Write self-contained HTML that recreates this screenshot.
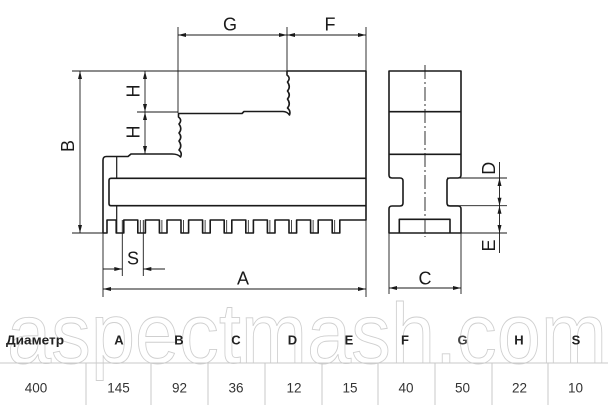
<!DOCTYPE html>
<html><head><meta charset="utf-8"><style>
html,body{margin:0;padding:0;background:#fff;}
svg{display:block;}
</style></head><body>
<svg width="611" height="410" viewBox="0 0 611 410" xmlns="http://www.w3.org/2000/svg">
<rect width="611" height="410" fill="#fff"/>

<!-- watermark -->
<text x="7" y="363" font-family="Liberation Sans, sans-serif" font-size="85" textLength="600" lengthAdjust="spacingAndGlyphs" fill="none" stroke="#cfcfcf" stroke-width="0.9">aspectmash.com</text>

<!-- table -->
<line x1="0" y1="363" x2="608" y2="363" stroke="#c9c9c9" stroke-width="1"/>
<g stroke="#c9c9c9" stroke-width="1">
<line x1="86" y1="363" x2="86" y2="405"/>
<line x1="151" y1="363" x2="151" y2="405"/>
<line x1="208" y1="363" x2="208" y2="405"/>
<line x1="265" y1="363" x2="265" y2="405"/>
<line x1="322" y1="363" x2="322" y2="405"/>
<line x1="378" y1="363" x2="378" y2="405"/>
<line x1="435" y1="363" x2="435" y2="405"/>
<line x1="492" y1="363" x2="492" y2="405"/>
<line x1="548" y1="363" x2="548" y2="405"/>
</g>
<g font-family="Liberation Sans, sans-serif" font-size="13" font-weight="bold" fill="#222" text-anchor="middle">
<text x="6" y="344.5" text-anchor="start" textLength="58" lengthAdjust="spacingAndGlyphs">Диаметр</text>
<text x="119" y="344.5">A</text>
<text x="179" y="344.5">B</text>
<text x="236" y="344.5">C</text>
<text x="292.5" y="344.5">D</text>
<text x="349" y="344.5">E</text>
<text x="405" y="344.5">F</text>
<text x="462.5" y="344.5" fill="#444">G</text>
<text x="519" y="344.5">H</text>
<text x="576" y="344.5">S</text>
</g>
<g font-family="Liberation Sans, sans-serif" font-size="13.5" fill="#333" text-anchor="middle">
<text x="36" y="392.5">400</text>
<text x="118.5" y="392.5">145</text>
<text x="179.5" y="392.5">92</text>
<text x="236" y="392.5">36</text>
<text x="294" y="392.5">12</text>
<text x="350" y="392.5">15</text>
<text x="406" y="392.5">40</text>
<text x="462.5" y="392.5">50</text>
<text x="519.5" y="392.5">22</text>
<text x="575.5" y="392.5">10</text>
</g>

<!-- thin dimension / extension lines -->
<g stroke="#1a1a1a" stroke-width="0.9" fill="none">
<line x1="72" y1="71" x2="287" y2="71"/>
<line x1="72" y1="233" x2="103" y2="233"/>
<line x1="80" y1="71" x2="80" y2="233"/>
<line x1="137" y1="112" x2="178" y2="112"/>
<line x1="145" y1="71" x2="145" y2="154"/>
<line x1="178" y1="27" x2="178" y2="113"/>
<line x1="287" y1="27" x2="287" y2="71"/>
<line x1="366" y1="27" x2="366" y2="71"/>
<line x1="178" y1="35" x2="366" y2="35"/>
<line x1="122.3" y1="220" x2="122.3" y2="276"/>
<line x1="143.3" y1="220" x2="143.3" y2="276"/>
<line x1="103" y1="269" x2="122.3" y2="269"/>
<line x1="143.3" y1="269" x2="165" y2="269"/>
<line x1="103" y1="233" x2="103" y2="297"/>
<line x1="366" y1="220" x2="366" y2="297"/>
<line x1="103" y1="289" x2="366" y2="289"/>
<line x1="389" y1="233" x2="389" y2="294"/>
<line x1="461" y1="233" x2="461" y2="294"/>
<line x1="389" y1="288" x2="461" y2="288"/>
<line x1="447" y1="178" x2="507" y2="178"/>
<line x1="447" y1="205.7" x2="507" y2="205.7"/>
<line x1="461" y1="233" x2="507" y2="233"/>
<line x1="499.5" y1="162" x2="499.5" y2="253"/>
<line x1="425" y1="65" x2="425" y2="237" stroke-dasharray="14 3 2 3"/>
</g>

<!-- arrowheads -->
<g fill="#1a1a1a">
<polygon points="80,71 78,79 82,79"/>
<polygon points="80,233 78,225 82,225"/>
<polygon points="145,71 143,79 147,79"/>
<polygon points="145,112 143,104 147,104"/>
<polygon points="145,112 143,120 147,120"/>
<polygon points="145,154 143,146 147,146"/>
<polygon points="178,35 186,33 186,37"/>
<polygon points="287,35 279,33 279,37"/>
<polygon points="287,35 295,33 295,37"/>
<polygon points="366,35 358,33 358,37"/>
<polygon points="122.3,269 114.3,267 114.3,271"/>
<polygon points="143.3,269 151.3,267 151.3,271"/>
<polygon points="103,289 111,287 111,291"/>
<polygon points="366,289 358,287 358,291"/>
<polygon points="389,288 397,286 397,290"/>
<polygon points="461,288 453,286 453,290"/>
<polygon points="499.5,178 497.5,186 501.5,186"/>
<polygon points="499.5,205.7 497.5,197.7 501.5,197.7"/>
<polygon points="499.5,205.7 497.5,213.7 501.5,213.7"/>
<polygon points="499.5,233 497.5,225 501.5,225"/>
</g>

<!-- main view outline -->
<g stroke="#1a1a1a" stroke-width="1.6" fill="none" stroke-linejoin="round">
<path d="M287,71 H366 V220 H339.8 V233 H332.2 V220 H318.2 V233 H310.6 V220 H296.6 V233 H289 V220 H275 V233 H267.4 V220 H253.4 V233 H245.8 V220 H231.8 V233 H224.2 V220 H210.2 V233 H202.6 V220 H188.6 V233 H181 V220 H167 V233 H159.4 V220 H145.4 V233 H137.8 V220 H123.8 V233 H116.2 V220 H107 V233 H103 V160 Q103,156.5 106.5,156.5 H128 L131,154 H172 Q178,154 180.5,157 Q182.5,153 179,150 Q182.5,146 179,141 Q182.5,137 179,133 Q182.5,129 179,124 Q182.5,120 178.5,117 L178.5,113.5 H242 L244,111.5 H283 Q287,111.5 289.5,115 Q291,111 287.5,108 Q291,104 287.5,99 Q291,95 287.5,91 Q291,87 287.5,82 Q291,78 287,75 V71"/>
<path d="M366,178.3 H111 Q109,178.3 109,180.5 V203.5 Q109,205.7 111,205.7 H366"/>
</g>
<g stroke="#1a1a1a" stroke-width="1.2" fill="none">
<line x1="116.7" y1="156.5" x2="116.7" y2="178.3"/>
<line x1="116.7" y1="205.7" x2="116.7" y2="233"/>
</g>
<g stroke="#1a1a1a" stroke-width="0.8">
<line x1="140.3" y1="220" x2="140.3" y2="233"/>
<line x1="161.9" y1="220" x2="161.9" y2="233"/>
<line x1="183.5" y1="220" x2="183.5" y2="233"/>
<line x1="205.1" y1="220" x2="205.1" y2="233"/>
<line x1="226.7" y1="220" x2="226.7" y2="233"/>
<line x1="248.3" y1="220" x2="248.3" y2="233"/>
<line x1="269.9" y1="220" x2="269.9" y2="233"/>
<line x1="291.5" y1="220" x2="291.5" y2="233"/>
<line x1="313.1" y1="220" x2="313.1" y2="233"/>
<line x1="334.7" y1="220" x2="334.7" y2="233"/>
</g>

<!-- side view -->
<g stroke="#1a1a1a" stroke-width="1.6" fill="none" stroke-linejoin="round">
<path d="M389,71 H461 V175 Q461,178 458,178 H450 Q447,178 447,181 V203 Q447,206 450,206 H458 Q461,206 461,209 V233 H389 V209 Q389,206 392,206 H400 Q403,206 403,203 V181 Q403,178 400,178 H392 Q389,178 389,175 Z"/>
<line x1="389" y1="111.7" x2="461" y2="111.7"/>
<line x1="389" y1="154.3" x2="461" y2="154.3"/>
<path d="M399.3,233 V219.3 H450 V233"/>
</g>

<!-- labels -->
<g font-family="Liberation Sans, sans-serif" font-size="18" fill="#1a1a1a" text-anchor="middle">
<text x="230" y="30.5">G</text>
<text x="330" y="30.5">F</text>
<text x="243" y="284.5">A</text>
<text x="425" y="284.5">C</text>
<text x="133" y="264.5">S</text>
<text x="0" y="0" dominant-baseline="central" transform="translate(68,146) rotate(-90)">B</text>
<text x="0" y="0" dominant-baseline="central" transform="translate(133.5,91) rotate(-90)">H</text>
<text x="0" y="0" dominant-baseline="central" transform="translate(133.5,132) rotate(-90)">H</text>
<text x="0" y="0" dominant-baseline="central" transform="translate(489,168.3) rotate(-90)">D</text>
<text x="0" y="0" dominant-baseline="central" transform="translate(489,245.5) rotate(-90)">E</text>
</g>
</svg>
</body></html>
